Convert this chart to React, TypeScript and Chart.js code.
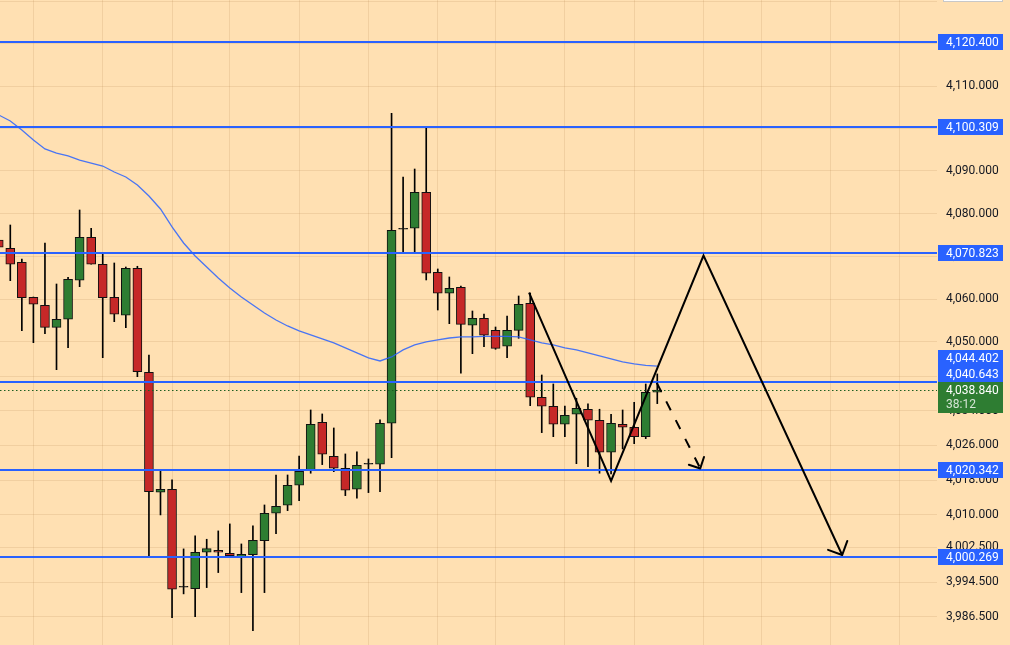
import { useEffect, useRef } from "react";
import { Chart, registerables } from "chart.js";

Chart.register(...registerables);

// ---------- data ----------
const firstCandleIndex = -1;

const opens = [
  4073.81, 4071.87, 4068.59, 4060.41, 4058.55, 4053.42, 4055.29, 4064.39, 4074.44, 4068.13,
  4060.41, 4056.23, 4067.19, 4042.96, 4015.18, 4015.88, 3993.33, 3993.0, 4001.37, 4001.82,
  4001.14, 4000.36, 4000.81, 4004.04, 4010.34, 4012.18, 4016.8, 4020.26, 4031.36, 4023.49,
  4020.72, 4015.88, 4021.64, 4021.64, 4031.13, 4076.32, 4076.55, 4084.99, 4066.26, 4061.35,
  4062.75, 4053.89, 4055.53, 4052.72, 4049.0, 4052.72, 4059.02, 4037.15, 4035.07, 4030.9,
  4033.22, 4034.38, 4031.83, 4024.42, 4030.9, 4030.2, 4028.03, 4038.31,
];
const highs = [
  4074.97, 4077.32, 4069.37, 4060.48, 4073.11, 4063.52, 4065.09, 4080.84, 4076.55, 4070.7,
  4068.43, 4067.49, 4067.66, 4046.98, 4020.33, 4018.02, 4002.13, 4005.12, 4004.35, 4006.27,
  4007.88, 4003.27, 4007.43, 4012.25, 4019.17, 4019.17, 4023.56, 4034.21, 4033.29, 4030.04,
  4024.03, 4024.49, 4022.87, 4031.9, 4103.58, 4088.58, 4090.46, 4100.34, 4067.03, 4065.16,
  4063.05, 4057.22, 4056.52, 4053.49, 4056.06, 4060.72, 4061.42, 4042.33, 4040.24, 4035.14,
  4036.93, 4035.61, 4034.38, 4033.22, 4034.21, 4035.99, 4040.24, 4042.57,
];
const lows = [
  4071.47, 4064.29, 4052.63, 4049.84, 4051.94, 4043.56, 4048.67, 4062.89, 4068.13, 4046.35,
  4054.73, 4053.33, 4041.94, 4000.12, 4009.95, 3986.37, 3991.8, 3986.59, 3993.24, 3996.69,
  4000.22, 3992.09, 3983.39, 3992.09, 4005.64, 4010.94, 4013.25, 4019.57, 4021.56, 4019.93,
  4014.4, 4013.8, 4015.1, 4015.32, 4023.16, 4070.61, 4070.61, 4064.46, 4057.45, 4054.26,
  4042.73, 4047.28, 4048.91, 4048.3, 4046.35, 4050.86, 4035.21, 4028.96, 4028.03, 4028.03,
  4021.78, 4021.09, 4019.57, 4019.41, 4025.18, 4026.41, 4027.57, 4035.68,
];
const closes = [
  4072.1, 4068.13, 4060.32, 4058.79, 4053.42, 4055.29, 4064.62, 4074.44, 4068.13, 4060.32,
  4056.46, 4067.19, 4043.1, 4015.32, 4015.88, 3992.88, 3993.33, 4001.37, 4002.2, 4001.37,
  4000.59, 4000.9, 4004.13, 4010.34, 4011.95, 4016.8, 4020.02, 4030.9, 4023.96, 4020.72,
  4015.65, 4021.42, 4021.64, 4031.13, 4076.09, 4076.32, 4084.99, 4066.02, 4061.35, 4062.52,
  4054.12, 4055.53, 4051.56, 4048.53, 4052.72, 4058.79, 4037.15, 4035.07, 4030.9, 4032.98,
  4034.6, 4031.83, 4024.42, 4031.13, 4030.2, 4028.03, 4038.31, 4038.84,
];
const maValues = [
  4103.18, 4101.77, 4099.65, 4097.29, 4095.17, 4094.22, 4093.52, 4092.57, 4091.87, 4091.16,
  4089.75, 4088.58, 4086.7, 4084.12, 4081.07, 4076.86, 4073.11, 4070.07, 4067.5, 4064.93,
  4062.59, 4060.5, 4058.63, 4056.76, 4055.13, 4053.73, 4052.57, 4051.63, 4050.7, 4049.77,
  4048.61, 4047.45, 4046.29, 4045.59, 4046.52, 4048.15, 4049.31, 4050.01, 4050.48, 4050.93,
  4051.17, 4051.17, 4051.29, 4051.29, 4051.29, 4051.17, 4050.48, 4049.77, 4049.31, 4048.61,
  4048.15, 4047.45, 4046.76, 4046.05, 4045.35, 4044.9, 4044.55, 4044.402,
];

const levelPrices = [4120.4, 4100.309, 4070.823, 4040.643, 4020.342, 4000.269];
const currentPrice = 4038.84;
const countdownText = "38:12";

const yTickValues = [
  4130, 4120, 4110, 4100, 4090, 4080, 4070, 4060, 4050, 4042, 4034, 4026, 4018, 4010,
  4002.5, 3994.5, 3986.5,
];
const timeGridIndex = [2, 8, 14, 19, 25, 31, 37, 42, 48, 54, 60, 65, 71, 77];

const zigzagIndex = [44.9, 52, 60, 72];
const zigzagPrices = [4061.49, 4017.79, 4070.18, 4000.72];
const dashedIndex = [55.95, 59.72];
const dashedPrices = [4040.54, 4020.68];

const xMin = -0.891;
const xMax = 80.21;
const yMin = 3980.09;
const yMax = 4130.38;

// ---------- styles ----------
const BG = "#FFE0B2";
const UP = "#2E7D32";
const DOWN = "#C62828";
const LEVEL = "#2962FF";
const GRID = "rgba(170,125,70,0.17)";
const FONT = "Roboto, 'Liberation Sans', sans-serif";

const fmt = (v: number) =>
  v.toLocaleString("en-US", { minimumFractionDigits: 3, maximumFractionDigits: 3 });

export default function App() {
  const ref = useRef<HTMLCanvasElement>(null);

  useEffect(() => {
    const canvas = ref.current;
    if (!canvas) return;
    const xs = opens.map((_, k) => k + firstCandleIndex);

    const bodyColors = opens.map((o, k) =>
      closes[k] > o ? UP : closes[k] < o ? DOWN : "#111"
    );

    const arrowHead = (ctx: CanvasRenderingContext2D, pts: any[], len: number) => {
      const a = pts[pts.length - 2];
      const b = pts[pts.length - 1];
      const ang = Math.atan2(b.y - a.y, b.x - a.x);
      ctx.beginPath();
      for (const d of [Math.PI / 4, -Math.PI / 4]) {
        ctx.moveTo(b.x, b.y);
        ctx.lineTo(b.x - len * Math.cos(ang + d), b.y - len * Math.sin(ang + d));
      }
      ctx.stroke();
    };

    const overlay = {
      id: "overlay",
      afterDatasetDraw(chart: any, args: any) {
        if (args.index !== 2) return;
        const { ctx, chartArea, scales } = chart;
        const y = scales.y;
        ctx.save();
        // current price dotted line
        const yc = Math.round(y.getPixelForValue(currentPrice)) + 0.5;
        ctx.strokeStyle = "#1B5E20";
        ctx.lineWidth = 1;
        ctx.setLineDash([1.5, 2.5]);
        ctx.beginPath();
        ctx.moveTo(chartArea.left, yc);
        ctx.lineTo(chartArea.right, yc);
        ctx.stroke();
        ctx.setLineDash([]);
        // horizontal levels
        ctx.strokeStyle = LEVEL;
        ctx.lineWidth = 2;
        for (const p of levelPrices) {
          const py = Math.round(y.getPixelForValue(p));
          ctx.beginPath();
          ctx.moveTo(chartArea.left, py);
          ctx.lineTo(chartArea.right, py);
          ctx.stroke();
        }
        ctx.restore();
      },
      afterDatasetsDraw(chart: any) {
        const { ctx } = chart;
        ctx.save();
        ctx.strokeStyle = "#000";
        ctx.lineWidth = 2;
        ctx.lineCap = "round";
        arrowHead(ctx, chart.getDatasetMeta(3).data, 15);
        arrowHead(ctx, chart.getDatasetMeta(4).data, 12);
        ctx.restore();
      },
      afterDraw(chart: any) {
        const { ctx, chartArea, scales } = chart;
        const y = scales.y;
        const left = chartArea.right + 1;
        const w = 65;
        const h = 16;
        const tx = chartArea.right + 9;
        ctx.save();
        ctx.font = `12px ${FONT}`;
        ctx.textBaseline = "middle";
        ctx.textAlign = "left";

        // top partial white box
        ctx.fillStyle = "#fff";
        ctx.fillRect(left + 5, 0, 60, 1.5);
        ctx.strokeStyle = "#c8c8c8";
        ctx.lineWidth = 1;
        ctx.strokeRect(left + 5.5, -2, 59, 3.5);

        const yc = y.getPixelForValue(currentPrice);
        const curTop = yc - 8.5;
        const curBottom = curTop + 31;

        const items = [
          ...levelPrices.map((v) => ({ v, color: LEVEL })),
          { v: maValues[maValues.length - 1], color: LEVEL },
        ].map((it) => ({ ...it, py: y.getPixelForValue(it.v), top: 0 }));

        const above = items.filter((it) => it.py < yc).sort((a, b) => b.py - a.py);
        let bound = curTop;
        for (const it of above) {
          const bottom = Math.min(it.py + h / 2, bound);
          it.top = bottom - h;
          bound = it.top;
        }
        const below = items.filter((it) => it.py >= yc).sort((a, b) => a.py - b.py);
        bound = curBottom;
        for (const it of below) {
          it.top = Math.max(it.py - h / 2, bound);
          bound = it.top + h;
        }
        for (const it of items) {
          ctx.fillStyle = it.color;
          ctx.fillRect(left, Math.round(it.top), w, h);
          ctx.fillStyle = "#fff";
          ctx.fillText(fmt(it.v), tx, Math.round(it.top) + h / 2 + 0.5);
        }
        // current price label
        ctx.fillStyle = UP;
        ctx.fillRect(left, Math.round(curTop), w, 31);
        ctx.fillStyle = "#fff";
        ctx.fillText(fmt(currentPrice), tx, Math.round(curTop) + 8.5);
        ctx.fillStyle = "rgba(255,255,255,0.8)";
        ctx.fillText(countdownText, tx, Math.round(curTop) + 22.5);
        ctx.restore();
      },
    };

    const chart = new Chart(canvas, {
      type: "bar",
      data: {
        datasets: [
          {
            type: "bar",
            label: "wick",
            data: xs.map((x, k) => ({ x, y: [lows[k], highs[k]] })) as any,
            backgroundColor: "#000",
            barThickness: 1,
            grouped: false,
            order: 10,
          } as any,
          {
            type: "bar",
            label: "body",
            data: xs.map((x, k) => ({
              x,
              y: [Math.min(opens[k], closes[k]), Math.max(opens[k], closes[k])],
            })) as any,
            backgroundColor: bodyColors,
            borderColor: "#111",
            borderWidth: 1,
            borderSkipped: false,
            barThickness: 9,
            minBarLength: 1,
            grouped: false,
            order: 9,
          } as any,
          {
            type: "line",
            label: "ma",
            data: xs.map((x, k) => ({ x, y: maValues[k] })) as any,
            borderColor: "rgba(41,98,255,0.85)",
            borderWidth: 1.3,
            pointRadius: 0,
            tension: 0,
            order: 8,
          } as any,
          {
            type: "line",
            label: "zigzag",
            data: zigzagIndex.map((x, k) => ({ x, y: zigzagPrices[k] })) as any,
            borderColor: "#000",
            borderWidth: 2,
            pointRadius: 0,
            tension: 0,
            order: 1,
          } as any,
          {
            type: "line",
            label: "dashed",
            data: dashedIndex.map((x, k) => ({ x, y: dashedPrices[k] })) as any,
            borderColor: "#000",
            borderWidth: 2,
            borderDash: [10, 11],
            pointRadius: 0,
            tension: 0,
            order: 2,
          } as any,
        ],
      },
      options: {
        responsive: false,
        animation: false,
        events: [],
        layout: { padding: 0 },
        plugins: { legend: { display: false }, tooltip: { enabled: false } },
        scales: {
          x: {
            type: "linear",
            min: xMin,
            max: xMax,
            offset: false,
            display: true,
            ticks: { display: false },
            grid: { color: GRID, drawTicks: false, offset: false },
            border: { display: false },
            afterBuildTicks: (s: any) => {
              s.ticks = timeGridIndex.map((v) => ({ value: v }));
            },
            afterFit: (s: any) => {
              s.height = 0;
              s.paddingLeft = 0;
              s.paddingRight = 0;
            },
          },
          y: {
            type: "logarithmic",
            position: "right",
            min: yMin,
            max: yMax,
            grid: { color: GRID, drawTicks: false },
            border: { display: false },
            ticks: {
              autoSkip: false,
              padding: 9,
              color: "#131722",
              font: { family: FONT, size: 12 },
              callback: (v: any) => (Number(v) >= 4130 ? "" : fmt(Number(v))),
            },
            afterBuildTicks: (s: any) => {
              s.ticks = yTickValues.map((v) => ({ value: v }));
            },
            afterFit: (s: any) => {
              s.width = 73;
              s.paddingTop = 0;
              s.paddingBottom = 0;
            },
          },
        },
      } as any,
      plugins: [overlay],
    });

    return () => chart.destroy();
  }, []);

  return (
    <div
      style={{
        position: "fixed",
        left: 0,
        top: 0,
        width: 1010,
        height: 645,
        background: BG,
        overflow: "hidden",
      }}
    >
      <canvas ref={ref} width={1010} height={645} style={{ display: "block" }} />
    </div>
  );
}
